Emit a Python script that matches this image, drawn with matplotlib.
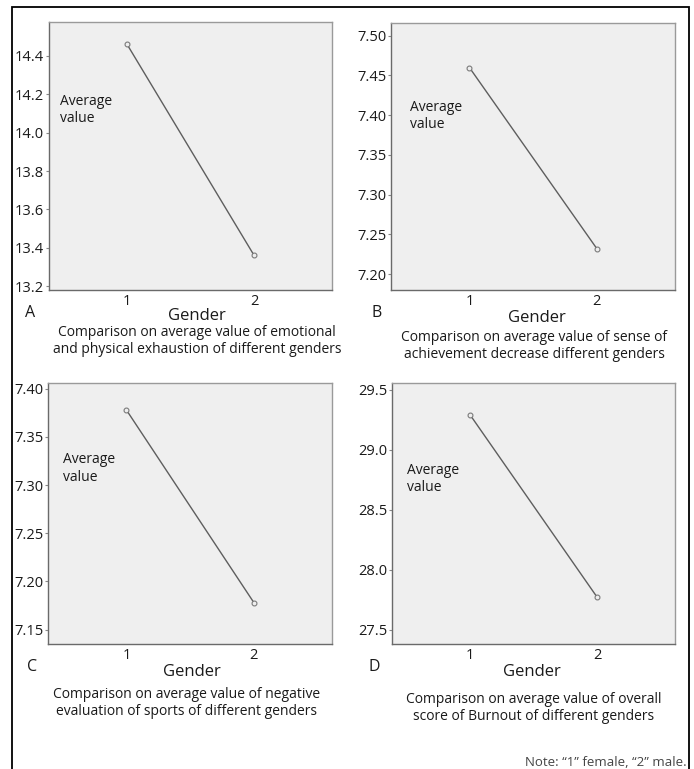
import numpy as np
import matplotlib.pyplot as plt
from matplotlib.patches import Rectangle
from matplotlib.ticker import FormatStrFormatter

plt.rcParams['font.family'] = ['Open Sans', 'DejaVu Sans']

W, H = 694, 769

# data
genders = [1, 2]
emotional = [14.46, 13.36]
achievement = [7.46, 7.232]
negative = [7.378, 7.178]
overall = [29.29, 27.77]

letters = ['A', 'B', 'C', 'D']
captions = [
    'Comparison on average value of emotional\nand physical exhaustion of different genders',
    'Comparison on average value of sense of\nachievement decrease different genders',
    'Comparison on average value of negative\nevaluation of sports of different genders',
    'Comparison on average value of overall\nscore of Burnout of different genders',
]
yticks = [
    [13.2, 13.4, 13.6, 13.8, 14.0, 14.2, 14.4],
    [7.20, 7.25, 7.30, 7.35, 7.40, 7.45, 7.50],
    [7.15, 7.20, 7.25, 7.30, 7.35, 7.40],
    [27.5, 28.0, 28.5, 29.0, 29.5],
]
ylims = [(13.18, 14.577), (7.18, 7.516), (7.135, 7.406), (27.38, 29.556)]
fmts = ['%.1f', '%.2f', '%.2f', '%.1f']
series = [emotional, achievement, negative, overall]

# layout in pixels: (left, top, right, bottom) of each plot box
boxes = [(49, 22, 332, 290), (391, 23, 675, 290),
         (48, 383, 332, 644), (392, 383, 675, 644)]
letter_pos = [(30, 313), (377, 313), (32, 667), (374, 667)]
gender_pos = [(197, 316), (537, 318), (192, 672), (532, 672)]
caption_pos = [(197, 341), (534, 346), (187, 703), (534, 708)]
avg_pos = [(0.039, 0.672), (0.067, 0.652), (0.053, 0.672), (0.053, 0.632)]


def fx(x):
    return x / W


def fy(y):
    return 1 - y / H


fig = plt.figure(figsize=(W / 100, H / 100), dpi=100)
fig.patch.set_facecolor('white')

# outer frame
fig.patches.append(Rectangle((fx(12), fy(790)), fx(677), 783 / H, transform=fig.transFigure,
                             fill=False, edgecolor='black', linewidth=1.3))

for i in range(4):
    l, t, r, b = boxes[i]
    ax = fig.add_axes([fx(l), fy(b), fx(r - l), (b - t) / H])
    ax.set_facecolor('#efefef')
    ax.plot(genders, series[i], color='#5e5e5e', linewidth=1.0,
            marker='o', markersize=3.5, markerfacecolor='#efefef',
            markeredgecolor='#7a7a7a', markeredgewidth=0.8)
    ax.set_xlim(0.385, 2.613)
    ax.set_ylim(*ylims[i])
    ax.set_xticks(genders)
    ax.set_yticks(yticks[i])
    ax.yaxis.set_major_formatter(FormatStrFormatter(fmts[i]))
    ax.tick_params(axis='y', length=2.5, width=0.8, color='#888888', pad=1,
                   labelsize=10.5, labelcolor='#1a1a1a')
    ax.tick_params(axis='x', length=0, pad=3, labelsize=10.5, labelcolor='#1a1a1a')
    for s in ['top', 'right']:
        ax.spines[s].set_color('#9a9a9a')
        ax.spines[s].set_linewidth(1.0)
    for s in ['left', 'bottom']:
        ax.spines[s].set_color('#6a6a6a')
        ax.spines[s].set_linewidth(1.0)
    ax.text(avg_pos[i][0], avg_pos[i][1], 'Average\nvalue', transform=ax.transAxes,
            fontsize=10, color='#1a1a1a', ha='left', va='center', linespacing=1.25)

    fig.text(fx(letter_pos[i][0]), fy(letter_pos[i][1]), letters[i],
             fontsize=11.5, ha='center', va='center', color='#1a1a1a')
    fig.text(fx(gender_pos[i][0]), fy(gender_pos[i][1]), 'Gender',
             fontsize=12, ha='center', va='center', color='#1a1a1a')
    fig.text(fx(caption_pos[i][0]), fy(caption_pos[i][1]), captions[i],
             fontsize=10, ha='center', va='center', color='#1a1a1a', linespacing=1.1)

fig.text(fx(687), fy(762), 'Note: \u201c1\u201d female, \u201c2\u201d male.',
         fontsize=9.5, ha='right', va='center', color='#444444')

fig.savefig('out.png', dpi=100)
